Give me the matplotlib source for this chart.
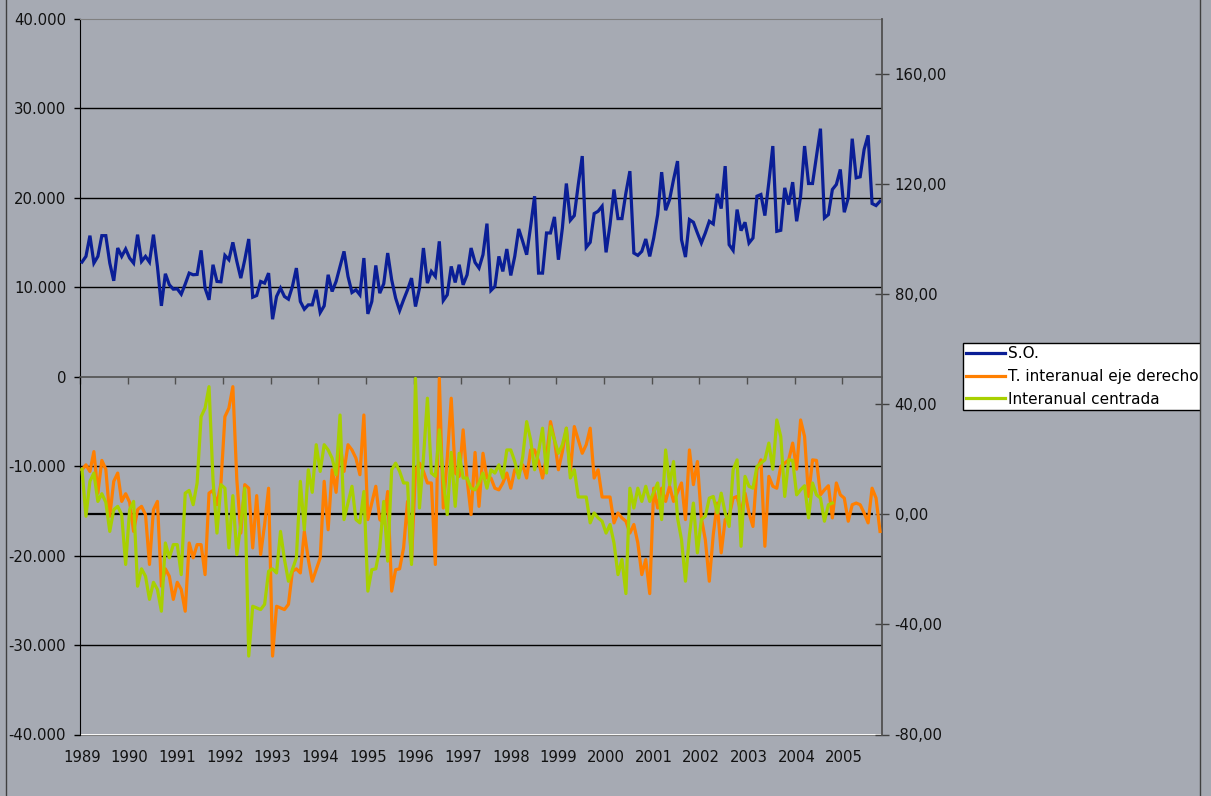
import matplotlib
matplotlib.use('Agg')
import matplotlib.pyplot as plt
from matplotlib.ticker import FuncFormatter
from matplotlib.patches import Rectangle
from matplotlib.lines import Line2D
import numpy as np

# ---------------- data ----------------
years = [str(y) for y in range(1989, 2006)]

so = [12822, 13458, 15776, 12710, 13458, 15776, 15776, 12710, 10729, 14393,
      13458, 14280, 13271, 12710, 15888, 12897, 13458, 12822, 15888, 12336,
      7925, 11514, 10280, 9794, 9832, 9234, 10355, 11589, 11402, 11440,
      14131, 9907, 8598, 12523, 10654, 10617, 13570, 13084, 15028, 12897,
      11028, 13084, 15402, 8897, 9084, 10654, 10467, 11589, 6430, 8972,
      9907,
      8972, 8673, 10094, 12150, 8412, 7552, 8038, 8038, 9720, 7178,
      7926, 11402, 9533, 10654, 12337, 14019, 11215, 9421, 9720, 9160,
      13271, 7028, 8412, 12449, 9347, 10393, 13832, 10841, 8786, 7403,
      8599, 9720, 11028, 7851, 9907, 14393, 10468, 11776, 11215, 15140,
      8524, 9160, 12337, 10543, 12524, 10281, 11402, 14393, 12786, 12150,
      13645, 17122, 9645, 10094, 13458, 11776, 14281, 11327, 13458, 16524,
      15140, 13645, 16823, 20187, 11589, 11589, 16075, 16075, 17869, 13084,
      16636, 21607, 17496, 18019, 21495, 24673, 14468, 15028, 18243, 18505,
      19065, 13907, 17010, 20935, 17683, 17683, 20561, 22990, 13832, 13570,
      14019, 15402, 13458, 15514, 18131, 22878, 18617, 19813, 22056, 24112,
      15327, 13384, 17570, 17271, 16075, 14953, 16075, 17383, 17084, 20449,
      18804, 23551, 14767, 14131, 18692, 16337, 17271, 14953, 15514, 20187,
      20374, 18019, 21757, 25794, 16262, 16374, 21121, 19252, 21757, 17383,
      20187, 25794, 21607, 21607, 24673, 27738, 17757, 18131, 20935, 21495,
      23177, 18393, 20000, 26616, 22243, 22355, 25421, 26990, 19365, 19140, 19626]

t_interanual = [16.2, 18.0, 15.6, 22.8, 7.7, 19.6, 16.4, -0.7, 12.0, 15.0,
                4.7, 7.5, 4.4, -6.2, 1.7, 2.9, -0.1, -18.2, 1.7, 4.7,
                -26.1, -19.8, -22.5, -30.9, -24.7, -27.3, -35.2, -10.4, -15.8, -11.0,
                -11.0, -21.9, 7.7, 8.7, 3.5, 11.4, 35.5, 38.6, 46.4, 12.6,
                -6.8, 10.8, 9.5, -12.2, 6.8, -14.6, -3.7, 9.5, -51.5, -33.4,
                -34.0, -34.6, -32.7, -20.7, -19.8, -21.3, -6.2, -16.4, -24.3, -20.1,
                -15.8, 12.0, -5.6, 16.2, 8.0, 25.3, 15.6, 25.3, 23.4, 20.4,
                14.4, 36.1, -1.9, 4.1, 10.2, -1.9, -3.1, 8.3, -27.9, -20.1,
                -19.8, -12.2, 4.7, -17.0, 16.2, 18.6, 15.6, 11.4, 11.4, -18.2,
                49.4, 2.3, 20.4, 42.2, 15.0, 13.8, 30.7, 12.6, -0.1, 22.5,
                2.9, 22.2, 13.2, 13.2, 9.5, 8.9, 11.4, 15.0, 9.5, 16.2,
                15.0, 18.0, 13.2, 23.4, 23.4, 19.2, 13.2, 20.8, 33.7, 27.1,
                16.2, 22.8, 31.3, 15.0, 31.9, 27.1, 22.2, 25.3, 31.3, 13.2,
                16.2, 6.3, 6.3, 6.3, -3.1, 0.5, -1.3, -2.5, -6.8, -3.7,
                -10.4, -21.9, -16.4, -28.8, 9.5, 2.3, 9.5, 4.7, 10.2, 4.7,
                8.0, 11.4, -1.9, 23.4, 10.8, 19.2, -1.3, -9.2, -24.3, -7.4,
                4.1, -14.0, -1.9, -0.7, 5.9, 6.5, 0.5, 7.7, 0.5, -4.4,
                16.2, 19.8, -11.6, 13.8, 10.2, 9.5, 17.4, 18.6, 19.8, 25.9,
                16.4, 34.3, 28.3, 6.5, 19.8, 19.6, 7.1, 8.9, 10.4, -1.3,
                11.4, 7.1, 5.9, -2.5, 3.5, 4.1, 3.5, 0.5, -3.1, 9.5,
                5.9, -6.2]

interanual_centrada = [16.4, -0.7, 12.0, 15.0,
                4.7, 7.5, 4.4, -6.2, 1.7, 2.9, -0.1, -18.2, 1.7, 4.7,
                -26.1, -19.8, -22.5, -30.9, -24.7, -27.3, -35.2, -10.4, -15.8, -11.0,
                -11.0, -21.9, 7.7, 8.7, 3.5, 11.4, 35.5, 38.6, 46.4, 12.6,
                -6.8, 10.8, 9.5, -12.2, 6.8, -14.6, -3.7, 9.5, -51.5, -33.4,
                -34.0, -34.6, -32.7, -20.7, -19.8, -21.3, -6.2, -16.4, -24.3, -20.1,
                -15.8, 12.0, -5.6, 16.2, 8.0, 25.3, 15.6, 25.3, 23.4, 20.4,
                14.4, 36.1, -1.9, 4.1, 10.2, -1.9, -3.1, 8.3, -27.9, -20.1,
                -19.8, -12.2, 4.7, -17.0, 16.2, 18.6, 15.6, 11.4, 11.4, -18.2,
                49.4, 2.3, 20.4, 42.2, 15.0, 13.8, 30.7, 12.6, -0.1, 22.5,
                2.9, 22.2, 13.2, 13.2, 9.5, 8.9, 11.4, 15.0, 9.5, 16.2,
                15.0, 18.0, 13.2, 23.4, 23.4, 19.2, 13.2, 20.8, 33.7, 27.1,
                16.2, 22.8, 31.3, 15.0, 31.9, 27.1, 22.2, 25.3, 31.3, 13.2,
                16.2, 6.3, 6.3, 6.3, -3.1, 0.5, -1.3, -2.5, -6.8, -3.7,
                -10.4, -21.9, -16.4, -28.8, 9.5, 2.3, 9.5, 4.7, 10.2, 4.7,
                8.0, 11.4, -1.9, 23.4, 10.8, 19.2, -1.3, -9.2, -24.3, -7.4,
                4.1, -14.0, -1.9, -0.7, 5.9, 6.5, 0.5, 7.7, 0.5, -4.4,
                16.2, 19.8, -11.6, 13.8, 10.2, 9.5, 17.4, 18.6, 19.8, 25.9,
                16.4, 34.3, 28.3, 6.5, 19.8, 19.6, 7.1, 8.9, 10.4, -1.3,
                11.4, 7.1, 5.9, -2.5, 3.5, 4.1]

labels = ["S.O.", "T. interanual eje derecho", "Interanual centrada"]
colors = ["#0A1E96", "#FF7F00", "#A8D000"]

# ---------------- figure ----------------
W, H = 1211, 796
plt.rcParams['font.family'] = ['DejaVu Sans']
FS = 10.7
bg = '#A6AAB3'
fig = plt.figure(figsize=(W / 100, H / 100), dpi=100)
fig.patch.set_facecolor(bg)

left, right, top, bottom = 80, 882, 19, 734.5
ax = fig.add_axes([left / W, 1 - bottom / H, (right - left) / W, (bottom - top) / H])
ax.set_facecolor(bg)

n = len(so)
x = np.arange(n)
ax.set_xlim(-0.5, n - 0.5)
ax.set_ylim(-40000, 40000)

# left axis
ax.set_yticks(np.arange(-40000, 40001, 10000))
ax.yaxis.set_major_formatter(FuncFormatter(lambda v, p: f"{int(v):,}".replace(",", ".")))
ax.tick_params(axis='y', direction='out', length=4, width=1, color='black',
               labelsize=FS, pad=6, labelcolor='#111111')
ax.set_axisbelow(True)
ax.yaxis.grid(True, color='black', lw=1)
yt = ax.yaxis.get_major_ticks()
yt[0].gridline.set_visible(False)
yt[-1].gridline.set_visible(False)
yt[4].gridline.set_visible(False)

# primary category axis crossing at 0
ax.spines['bottom'].set_position(('data', 0))
ax.spines['bottom'].set_color('#505050')
ax.spines['bottom'].set_linewidth(1.2)
ax.set_xticks(np.arange(-0.5, n - 1, 12))
ax.tick_params(axis='x', direction='out', length=5, width=1, color='#505050',
               labelbottom=False)
ax.spines['left'].set_color('black')
ax.spines['top'].set_color('#808080')
ax.spines['right'].set_visible(False)

# year labels at the bottom
sec = ax.secondary_xaxis('bottom')
sec.set_xticks(np.arange(0, n, 12)[:len(years)], years)
sec.tick_params(length=0, labelsize=FS, pad=11, labelcolor='#111111')
sec.spines['bottom'].set_color('#808080')

ax.plot(x, so, color=colors[0], lw=2.3, solid_joinstyle='miter', zorder=3)

# right axis
ax2 = ax.twinx()
ax2.set_ylim(-80, 180)
ax2.set_yticks(np.arange(-80, 161, 40))
ax2.yaxis.set_major_formatter(FuncFormatter(lambda v, p: f"{v:.2f}".replace(".", ",")))
ax2.tick_params(axis='y', direction='inout', length=10, width=1, color='#404040',
                labelsize=FS, pad=4, labelcolor='#111111')
for s in ['left', 'top', 'bottom']:
    ax2.spines[s].set_visible(False)
ax2.spines['right'].set_color('#505050')
ax2.spines['right'].set_linewidth(1.3)

ax2.hlines(0, 1, 199.2, color='black', lw=1.6, zorder=2)
ax2.plot(np.arange(len(t_interanual)), t_interanual, color=colors[1], lw=2.3, zorder=3)
ax2.plot(np.arange(len(interanual_centrada)), interanual_centrada, color=colors[2], lw=2.3, zorder=4)

# legend
handles = [Line2D([], [], color=c, lw=2.3) for c in colors]
leg = fig.legend(handles, labels, loc='upper left',
                 bbox_to_anchor=(962.5 / W, 1 - 342.5 / H), borderaxespad=0,
                 frameon=True, fancybox=False, shadow=False, framealpha=1,
                 facecolor='white', edgecolor='black', fontsize=11,
                 handlelength=2.5, handletextpad=0.2, borderpad=0.25,
                 labelspacing=0.5)
leg.get_frame().set_linewidth(1)

# chart-area border (clips legend at right)
fig.add_artist(Rectangle((1199.5 / W, 0), 1 - 1199.5 / W, 1, transform=fig.transFigure,
                         facecolor=bg, edgecolor='none', zorder=10))
fig.add_artist(Line2D([1199.5 / W] * 2, [0, 1], transform=fig.transFigure,
                      color='#404040', lw=1, zorder=11))
fig.add_artist(Line2D([5.5 / W] * 2, [0, 1], transform=fig.transFigure,
                      color='#404040', lw=1, zorder=11))

fig.savefig('out.png', dpi=100, facecolor=bg)
